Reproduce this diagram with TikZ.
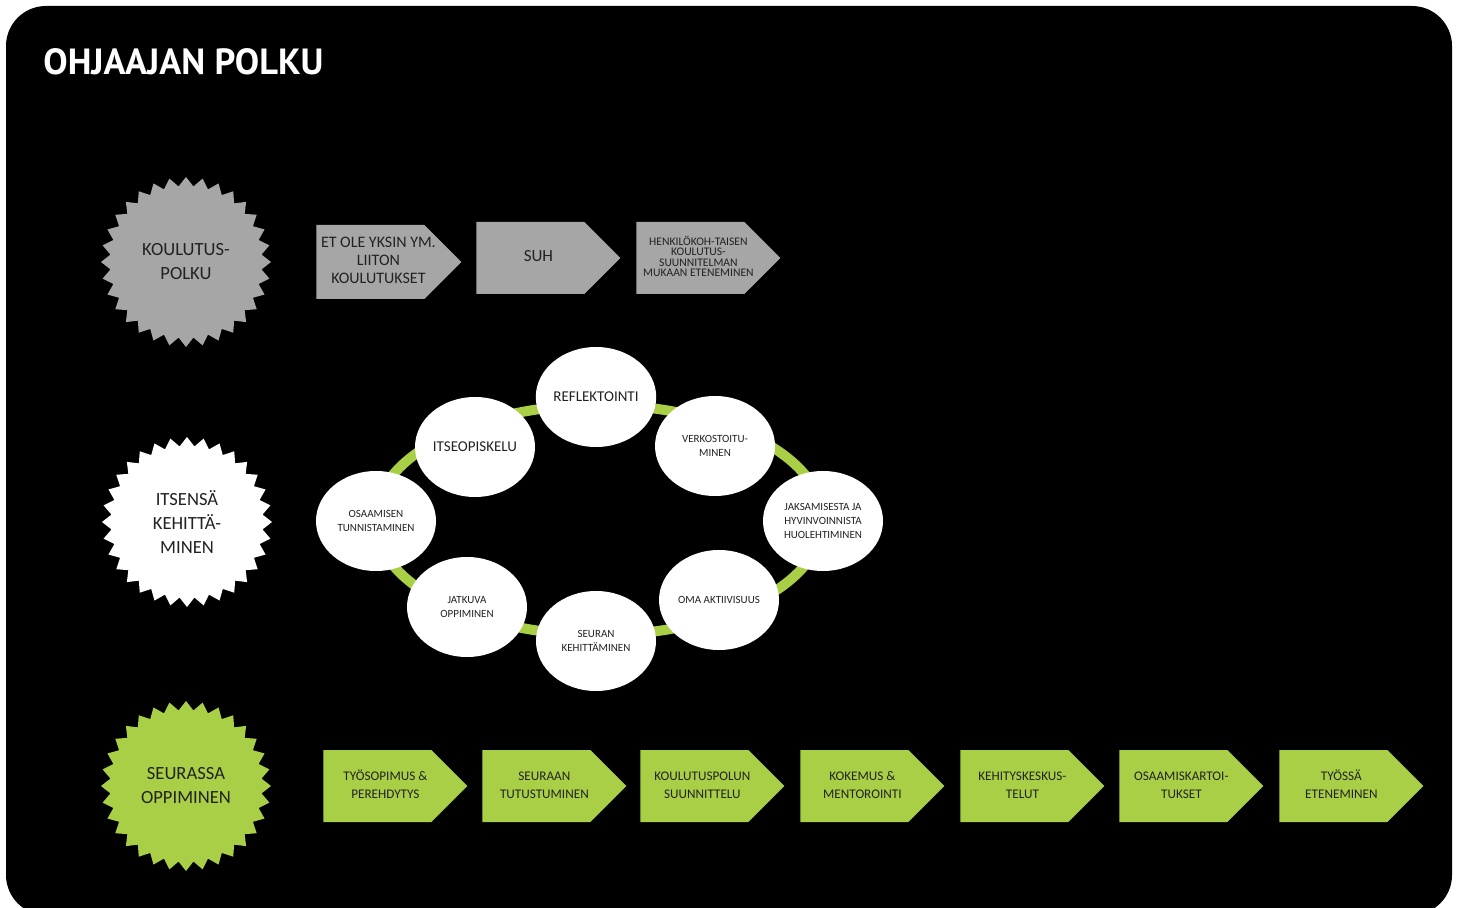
\documentclass[tikz,border=0pt]{standalone}
\usepackage{fontspec}
\setmainfont{Carlito}
\newfontfamily\titlefont{PT Sans}
\usetikzlibrary{shapes.geometric,shapes.symbols}
\definecolor{polkugray}{HTML}{A6A6A6}
\definecolor{polkugreen}{HTML}{A9CF46}
\definecolor{polkutext}{HTML}{222222}
% teksti hieman oikealle nuolen rungossa
\newcommand{\chevtext}[1]{\makebox[54pt][c]{\hspace*{8pt}\begin{tabular}{@{}c@{}}#1\end{tabular}}}
\tikzset{
  seal/.style={star,star points=32,star point ratio=1.12,minimum size=85pt,inner sep=0pt,
    align=center,text=polkutext,font={\fontsize{9.3}{12}\selectfont}},
  chevron/.style={signal,signal to=east,signal pointer angle=90,minimum width=72pt,
    minimum height=36pt,inner sep=0pt,text=polkutext,anchor=west},
  ringnode/.style={ellipse,fill=white,minimum width=60pt,minimum height=50pt,inner sep=0pt,
    align=center,text=polkutext,font={\fontsize{5.5}{7}\selectfont}},
}

\begin{document}
\begin{tikzpicture}[x=0.5pt,y=-0.5pt]
\useasboundingbox (0,0) rectangle (1461,908);
\clip (0,0) rectangle (1461,908);
\fill[black,rounded corners=20pt] (6,6) rectangle (1452,915);

\node[anchor=base west,inner sep=0pt,text=white,font={\titlefont\bfseries\fontsize{18.2}{20}\selectfont}] (title) at (43,75) {OHJAAJAN POLKU};

% merkit
\node[seal,fill=polkugray] (koulutus) at (186,262) {KOULUTUS-\\POLKU};
\node[seal,fill=white] (itsensa) at (187,522) {ITSENSÄ\\KEHITTÄ-\\MINEN};
\node[seal,fill=polkugreen] (seurassa) at (186,786) {SEURASSA\\OPPIMINEN};

% koulutuspolku
\node[chevron,fill=polkugray,minimum height=37pt,font={\fontsize{8}{9}\selectfont}] (eoy) at (316,262) {\chevtext{ET OLE YKSIN YM.\\LIITON\\KOULUTUKSET}};
\node[chevron,fill=polkugray,font={\fontsize{8.5}{9}\selectfont}] (suh) at (476,258) {\chevtext{SUH}};
\node[chevron,fill=polkugray,font={\fontsize{5.8}{5}\selectfont}] (hoks) at (636,258) {\chevtext{HENKILÖKOH-TAISEN\\KOULUTUS-\\SUUNNITELMAN\\MUKAAN ETENEMINEN}};

% rengas
\draw[polkugreen,line width=5pt] (599,520) ellipse [x radius=112pt,y radius=57.5pt];

\node[ringnode,font={\fontsize{7.5}{9}\selectfont}] (reflektointi) at (596,397) {REFLEKTOINTI};
\node[ringnode] (verkosto) at (715,446) {VERKOSTOITU-\\MINEN};
\node[ringnode] (jaksaminen) at (823,521) {JAKSAMISESTA JA\\HYVINVOINNISTA\\HUOLEHTIMINEN};
\node[ringnode] (aktiivisuus) at (719,600) {OMA AKTIIVISUUS};
\node[ringnode] (seura) at (596,641) {SEURAN\\KEHITTÄMINEN};
\node[ringnode] (jatkuva) at (467,607) {JATKUVA\\OPPIMINEN};
\node[ringnode] (osaaminen) at (376,521) {OSAAMISEN\\TUNNISTAMINEN};
\node[ringnode,font={\fontsize{7.5}{9}\selectfont}] (itseopiskelu) at (475,447) {ITSEOPISKELU};

% seurassa oppiminen
\node[chevron,fill=polkugreen,font={\fontsize{6.6}{9}\selectfont}] (tyosopimus) at (323,786) {\chevtext{TYÖSOPIMUS \&\\PEREHDYTYS}};
\node[chevron,fill=polkugreen,font={\fontsize{6.6}{9}\selectfont}] (tutustuminen) at (482,786) {\chevtext{SEURAAN\\TUTUSTUMINEN}};
\node[chevron,fill=polkugreen,font={\fontsize{6.6}{9}\selectfont}] (suunnittelu) at (640,786) {\chevtext{KOULUTUSPOLUN\\SUUNNITTELU}};
\node[chevron,fill=polkugreen,font={\fontsize{6.6}{9}\selectfont}] (mentorointi) at (800,786) {\chevtext{KOKEMUS \&\\MENTOROINTI}};
\node[chevron,fill=polkugreen,font={\fontsize{6.6}{9}\selectfont}] (keskustelut) at (960,786) {\chevtext{KEHITYSKESKUS-\\TELUT}};
\node[chevron,fill=polkugreen,font={\fontsize{6.6}{9}\selectfont}] (kartoitukset) at (1119,786) {\chevtext{OSAAMISKARTOI-\\TUKSET}};
\node[chevron,fill=polkugreen,font={\fontsize{6.6}{9}\selectfont}] (eteneminen) at (1279,786) {\chevtext{TYÖSSÄ\\ETENEMINEN}};

\end{tikzpicture}
\end{document}
